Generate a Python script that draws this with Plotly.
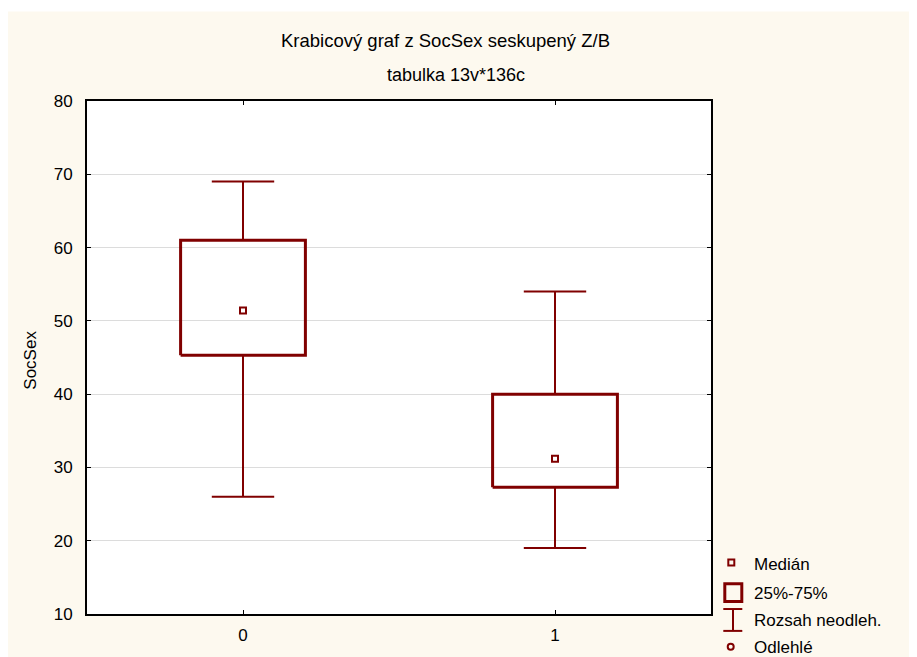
import plotly.graph_objects as go

# data
groups = [0, 1]
group_labels = ["0", "1"]
q1 = [45.3, 27.3]
median = [51.4, 31.2]
q3 = [61.0, 40.0]
whisker_lo = [26.0, 19.0]
whisker_hi = [69.0, 54.0]

title = "Krabicový graf z SocSex seskupený Z/B"
subtitle = "tabulka 13v*136c"
y_label = "SocSex"
legend_labels = ["Medián", "25%-75%", "Rozsah neodleh.", "Odlehlé"]

RED = "#800000"
CREAM = "#FDF9EF"
FONT = "Liberation Sans, Arial, sans-serif"

# page body adds 8px around the figure
W, H = 909, 649
L, R, T, B = 79, 206, 93, 40
PW, PH = W - L - R, H - T - B
box_half = 0.2
cap_half = 0.1

# box outlines
bx, by = [], []
for g, a, b in zip(groups, q1, q3):
    bx += [g - box_half, g + box_half, g + box_half, g - box_half, g - box_half, None]
    by += [a, a, b, b, a, None]

# whiskers with caps
wx, wy = [], []
for g, lo, hi, a, b in zip(groups, whisker_lo, whisker_hi, q1, q3):
    wx += [g, g, None, g, g, None]
    wy += [b, hi, None, a, lo, None]
    wx += [g - cap_half, g + cap_half, None, g - cap_half, g + cap_half, None]
    wy += [hi, hi, None, lo, lo, None]

fig = go.Figure()
fig.add_trace(go.Scatter(x=wx, y=wy, mode="lines", line=dict(color=RED, width=2),
                         showlegend=False, hoverinfo="skip"))
fig.add_trace(go.Scatter(x=bx, y=by, mode="lines", line=dict(color=RED, width=3),
                         showlegend=False, hoverinfo="skip"))
fig.add_trace(go.Scatter(x=groups, y=median, mode="markers",
                         marker=dict(symbol="square-open", size=6, color=RED, line=dict(width=2)),
                         showlegend=False))


# screen pixel (as on the page) -> paper coords
def px(xp):
    return (xp - 8 - L) / PW


def py(yp):
    return (H - B - (yp - 8)) / PH


shapes = []
# white strip at the very top of the page
shapes.append(dict(type="rect", xref="paper", yref="paper", layer="below",
                   x0=px(0), x1=px(920), y0=py(11), y1=py(7),
                   line=dict(width=0), fillcolor="white"))
# legend symbols
shapes.append(dict(type="rect", xref="paper", yref="paper",
                   x0=px(728.3), x1=px(734.3), y0=py(568.2), y1=py(562.2),
                   line=dict(color=RED, width=2)))
shapes.append(dict(type="rect", xref="paper", yref="paper",
                   x0=px(724.8), x1=px(741.8), y0=py(604.5), y1=py(586.5),
                   line=dict(color=RED, width=3)))
shapes.append(dict(type="line", xref="paper", yref="paper",
                   x0=px(733), x1=px(733), y0=py(612), y1=py(634),
                   line=dict(color=RED, width=2)))
for yy in (612, 634):
    shapes.append(dict(type="line", xref="paper", yref="paper",
                       x0=px(723.3), x1=px(742.3), y0=py(yy), y1=py(yy),
                       line=dict(color=RED, width=2)))
shapes.append(dict(type="circle", xref="paper", yref="paper",
                   x0=px(727.7), x1=px(733.7), y0=py(653), y1=py(647),
                   line=dict(color=RED, width=2)))

annotations = [
    dict(text=title, x=px(445), y=py(40), xanchor="center", yanchor="middle",
         font=dict(size=18.5, family=FONT, color="black")),
    dict(text=subtitle, x=px(456), y=py(75), xanchor="center", yanchor="middle",
         font=dict(size=18, family=FONT, color="black")),
    dict(text=y_label, x=px(30.5), y=py(361.7), xanchor="center", yanchor="middle",
         textangle=-90, font=dict(size=17, family=FONT, color="black")),
]
for lab, yy in zip(legend_labels, [567.7, 596.5, 623.3, 650.5]):
    annotations.append(dict(text=lab, x=px(751.7), y=py(yy), xanchor="left", yanchor="middle",
                            font=dict(size=17, family=FONT, color="black")))
for a in annotations:
    a.update(xref="paper", yref="paper", showarrow=False)

fig.update_layout(
    width=W, height=H,
    margin=dict(l=L, r=R, t=T, b=B, pad=0),
    paper_bgcolor=CREAM, plot_bgcolor="white",
    font=dict(family=FONT, size=17, color="black"),
    shapes=shapes, annotations=annotations,
    showlegend=False,
)
fig.update_xaxes(range=[-0.5, 1.5], tickvals=groups, ticktext=group_labels,
                 showgrid=False, zeroline=False, showline=True, linecolor="black",
                 linewidth=2, mirror="ticks", ticks="inside", ticklen=4,
                 tickcolor="black", tickwidth=1, ticklabelstandoff=5)
fig.update_yaxes(range=[10, 80], tickvals=[10, 20, 30, 40, 50, 60, 70, 80],
                 showgrid=True, gridcolor="#dcdcdc", gridwidth=1, zeroline=False,
                 showline=True, linecolor="black", linewidth=2, mirror="ticks",
                 ticks="inside", ticklen=4, tickcolor="black", tickwidth=1,
                 ticklabelstandoff=9)

fig.write_html("out.html")
